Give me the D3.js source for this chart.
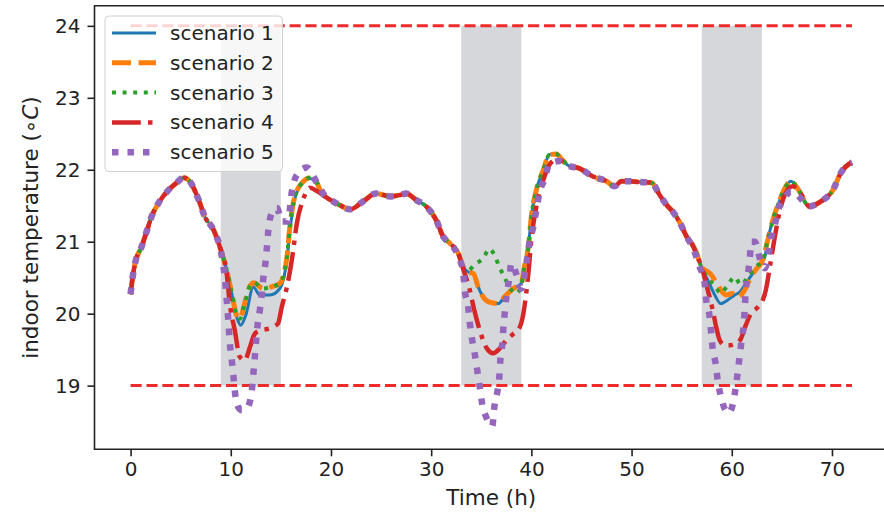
<!DOCTYPE html>
<html>
<head>
<meta charset="utf-8">
<script src="https://cdn.jsdelivr.net/npm/d3@7"></script>
<style>
  body { margin: 0; background: #fff; }
  svg { display: block; font-family: "DejaVu Sans", sans-serif; }
</style>
</head>
<body>
<div id="chart"></div>
<script>
// common curve (where all scenarios overlap), time in h
var baseT = [0, 0.2, 0.45, 1.1, 1.6, 2.1, 2.8, 3.8, 4.6, 5.3, 5.9, 6.8, 7.4, 8.3, 8.9, 9.6,
  18.9, 19.5, 20.2, 21.0, 21.9, 23.2, 24.5, 25.9, 26.9, 27.5, 28.5, 29.5, 30.5, 31.2, 31.85, 32.7, 33.2,
  42.5, 43.0, 43.8, 44.8, 46.1, 47.5, 48.3, 49.0, 49.8, 50.8, 52.0, 52.8, 53.5, 54.1, 54.8, 55.5, 56.1, 56.5,
  65.9, 66.75, 67.7, 68.9, 70.1, 70.9, 71.7, 72];
var baseY = [20.27, 20.5, 20.7, 20.93, 21.14, 21.35, 21.54, 21.72, 21.82, 21.89, 21.84, 21.58, 21.35, 21.16, 20.93, 20.6,
  21.72, 21.62, 21.56, 21.5, 21.45, 21.56, 21.67, 21.63, 21.65, 21.67, 21.58, 21.49, 21.3, 21.07, 20.98, 20.84, 20.65,
  22.22, 22.15, 22.05, 22.02, 21.91, 21.84, 21.77, 21.84, 21.84, 21.83, 21.82, 21.65, 21.51, 21.42, 21.27, 21.07, 20.95, 20.84,
  21.84, 21.70, 21.49, 21.56, 21.72, 21.96, 22.08, 22.1];

// parts of each scenario that leave the common curve (around the grey periods)
var s1Dips = [
  [[9.6,20.6],[10.1,20.28],[10.6,19.95],[11.0,19.84],[11.5,19.98],[12.25,20.37],[12.9,20.26],[13.9,20.26],[14.9,20.35],[15.3,20.5],[15.6,20.75],[15.9,21.15],[16.4,21.6],[17.2,21.82],[17.9,21.88],[18.6,21.8],[18.9,21.72]],
  [[33.2,20.65],[33.7,20.58],[34.2,20.56],[34.7,20.37],[35.2,20.23],[35.8,20.16],[36.7,20.14],[37.3,20.23],[38.2,20.35],[39.0,20.42],[39.3,20.65],[39.7,20.93],[40.0,21.35],[40.5,21.72],[41.2,22.0],[41.8,22.21],[42.5,22.22]],
  [[56.5,20.84],[56.95,20.65],[57.6,20.47],[58.3,20.26],[58.9,20.14],[59.6,20.19],[60.3,20.26],[60.8,20.3],[61.4,20.42],[62.1,20.56],[62.8,20.68],[63.3,20.79],[63.6,21.03],[64.1,21.3],[64.8,21.58],[65.4,21.77],[65.9,21.84]]
];
var s2Dips = [
  [[9.6,20.6],[10.1,20.28],[10.6,19.97],[10.9,19.93],[11.4,20.15],[11.9,20.38],[12.3,20.43],[13.2,20.35],[14.2,20.38],[14.9,20.42],[15.3,20.55],[15.6,20.78],[15.9,21.21],[16.4,21.63],[17.2,21.83],[17.9,21.89],[18.6,21.82],[18.9,21.72]],
  [[33.2,20.65],[33.7,20.58],[34.2,20.56],[34.7,20.37],[35.2,20.23],[35.8,20.16],[36.7,20.14],[37.3,20.23],[38.2,20.35],[39.0,20.42],[39.3,20.65],[39.7,20.93],[40.0,21.35],[40.5,21.72],[41.2,22.0],[41.8,22.21],[42.5,22.22]],
  [[56.5,20.84],[56.95,20.65],[57.4,20.6],[57.9,20.55],[58.5,20.42],[59.4,20.26],[60.1,20.28],[60.6,20.23],[61.3,20.33],[61.9,20.51],[62.5,20.63],[63.1,20.75],[63.6,21.03],[64.1,21.3],[64.8,21.58],[65.4,21.77],[65.9,21.84]]
];
var s3Dips = [
  [[9.6,20.6],[10.1,20.28],[10.6,19.97],[10.9,19.93],[11.4,20.15],[11.9,20.38],[12.3,20.43],[13.2,20.35],[14.2,20.38],[14.9,20.42],[15.3,20.55],[15.6,20.78],[15.9,21.21],[16.4,21.63],[17.2,21.83],[17.9,21.89],[18.6,21.82],[18.9,21.72]],
  [[33.2,20.65],[33.7,20.6],[34.3,20.68],[35.2,20.77],[35.8,20.9],[36.3,20.82],[36.8,20.65],[37.3,20.51],[37.8,20.37],[38.5,20.28],[39.0,20.4],[39.3,20.65],[39.7,20.93],[40.0,21.35],[40.5,21.72],[41.2,22.0],[41.8,22.21],[42.5,22.22]],
  [[56.5,20.84],[56.95,20.65],[57.6,20.5],[58.4,20.37],[58.9,20.28],[59.6,20.4],[60.3,20.51],[60.9,20.4],[61.6,20.51],[62.4,20.65],[63.1,20.75],[63.6,21.03],[64.1,21.3],[64.8,21.58],[65.4,21.77],[65.9,21.84]]
];
var s4Dips = [
  [[9.6,20.55],[9.9,20.14],[10.4,19.77],[10.9,19.4],[11.4,19.35],[11.9,19.53],[12.4,19.72],[13.0,19.77],[13.7,19.79],[14.7,19.86],[15.1,20.1],[15.6,20.37],[16.1,20.75],[16.6,21.26],[17.2,21.58],[17.9,21.75],[18.4,21.72],[18.9,21.68],[19.5,21.62]],
  [[33.2,20.62],[33.85,20.33],[34.3,20.05],[34.85,19.77],[35.5,19.53],[36.2,19.45],[36.8,19.51],[37.5,19.63],[38.2,19.72],[38.8,19.8],[39.2,20.0],[39.4,20.19],[39.7,20.56],[40.0,21.03],[40.5,21.49],[41.2,21.86],[41.8,22.07],[42.5,22.14],[43.2,22.11],[43.8,22.05]],
  [[56.5,20.82],[57.1,20.6],[57.6,20.33],[58.1,20.05],[58.45,19.81],[58.8,19.63],[59.3,19.56],[59.8,19.56],[60.4,19.58],[60.9,19.65],[61.4,19.84],[61.9,20.0],[62.6,20.09],[63.1,20.19],[63.4,20.33],[63.8,20.65],[64.25,21.03],[64.75,21.4],[65.4,21.68],[66.1,21.77],[66.6,21.72],[67.2,21.6],[67.7,21.49]]
];
var s5Dips = [
  [[8.3,21.16],[8.9,20.93],[9.2,20.72],[9.4,20.51],[9.6,20.19],[9.75,19.91],[9.9,19.6],[10.1,19.35],[10.25,19.16],[10.4,18.93],[10.75,18.7],[11.1,18.66],[11.6,18.68],[12.1,18.93],[12.25,19.16],[12.4,19.4],[12.65,19.81],[12.9,20.05],[13.1,20.28],[13.3,20.56],[13.5,20.75],[13.6,20.91],[13.75,21.16],[14.1,21.4],[14.6,21.47],[15.1,21.28],[15.7,21.28],[16.1,21.7],[16.6,21.93],[17.6,22.03],[18.7,21.79],[19.5,21.62]],
  [[32.2,20.93],[32.7,20.8],[33.2,20.56],[33.35,20.33],[33.7,20.09],[33.85,19.88],[34.1,19.63],[34.35,19.44],[34.6,19.21],[34.85,18.98],[35.1,18.74],[35.5,18.56],[36.1,18.44],[36.3,18.7],[36.6,18.91],[36.8,19.12],[36.9,19.35],[37.1,19.58],[37.2,19.79],[37.35,20.02],[37.5,20.23],[37.8,20.49],[38.0,20.7],[38.5,20.55],[39.0,20.35],[39.4,20.6],[39.8,20.98],[40.2,21.21],[40.5,21.44],[40.8,21.68],[41.3,21.86],[41.8,22.08],[42.8,22.12],[43.8,22.05]],
  [[56.1,20.92],[56.8,20.65],[57.3,20.42],[57.45,20.19],[57.8,19.95],[57.95,19.72],[58.1,19.51],[58.4,19.3],[58.6,19.07],[58.9,18.86],[59.4,18.65],[59.7,18.62],[60.1,18.74],[60.4,18.98],[60.6,19.19],[60.8,19.42],[61.0,19.65],[61.2,19.86],[61.3,20.09],[61.4,20.33],[61.6,20.54],[61.8,20.77],[61.95,21.0],[62.3,21.0],[62.8,20.77],[63.3,20.63],[63.6,20.77],[63.9,21.03],[64.25,21.21],[64.75,21.49],[65.25,21.6],[65.9,21.7],[66.75,21.62],[67.7,21.49]]
];

var names = ["scenario 1", "scenario 2", "scenario 3", "scenario 4", "scenario 5"];
var colors = ["#1f77b4", "#ff7f0e", "#2ca02c", "#d62728", "#9467bd"];
var widths = [3, 5, 4, 4.5, 6.5];
var dashes = [null, "19,7.5", "4,6.6", "28.8,7.2,4.5,7.2", "6.5,9"];

var periods = [[9, 15], [33, 39], [57, 63]];   // grey shaded hours
var comfort = [19, 24];                         // red dashed limits
var xTicks = [0, 10, 20, 30, 40, 50, 60, 70];
var yTicks = [19, 20, 21, 22, 23, 24];

var W = 884, H = 512;
var margin = {top: 5.7, left: 94.5, bottom: 449.3};

var x = d3.scaleLinear().domain([-3.6, 75.6]).range([margin.left, margin.left + 79.2 * 10.02]);
var y = d3.scaleLinear().domain([18.115, 24.28]).range([margin.bottom, margin.top]);
var xEnd = x.range()[1];

// build each scenario: common curve with its own dip parts swapped in
function build(dips) {
  var pts = baseT.map(function (t, i) { return [t, baseY[i]]; });
  dips.forEach(function (seg) {
    var t0 = seg[0][0], t1 = seg[seg.length - 1][0];
    pts = pts.filter(function (p) { return p[0] < t0 || p[0] > t1; }).concat(seg);
  });
  return pts.sort(function (a, b) { return a[0] - b[0]; });
}
var series = [s1Dips, s2Dips, s3Dips, s4Dips, s5Dips].map(build);

var svg = d3.select("#chart").append("svg")
  .attr("width", W).attr("height", H);

svg.append("defs").append("clipPath").attr("id", "plot")
  .append("rect").attr("x", margin.left).attr("y", margin.top)
  .attr("width", xEnd - margin.left).attr("height", margin.bottom - margin.top);

var plot = svg.append("g").attr("clip-path", "url(#plot)");

// grey periods
plot.selectAll(".period").data(periods).enter().append("rect")
  .attr("class", "period")
  .attr("x", function (d) { return x(d[0]); })
  .attr("width", function (d) { return x(d[1]) - x(d[0]); })
  .attr("y", y(comfort[1]))
  .attr("height", y(comfort[0]) - y(comfort[1]))
  .attr("fill", "#d5d7da");

// comfort limits
plot.selectAll(".limit").data(comfort).enter().append("line")
  .attr("class", "limit")
  .attr("x1", x(0)).attr("x2", x(72))
  .attr("y1", function (d) { return y(d); })
  .attr("y2", function (d) { return y(d); })
  .attr("stroke", "#ef2a2a").attr("stroke-width", 3)
  .attr("stroke-dasharray", "11.1,4.8");

var line = d3.line()
  .x(function (d) { return x(d[0]); })
  .y(function (d) { return y(d[1]); })
  .curve(d3.curveMonotoneX);

plot.selectAll(".scen").data(series).enter().append("path")
  .attr("class", "scen")
  .attr("d", line)
  .attr("fill", "none")
  .attr("stroke", function (d, i) { return colors[i]; })
  .attr("stroke-width", function (d, i) { return widths[i]; })
  .attr("stroke-dasharray", function (d, i) { return dashes[i]; })
  .attr("stroke-linejoin", "round");

// axes
var xAxis = svg.append("g")
  .attr("transform", "translate(0," + margin.bottom + ")")
  .call(d3.axisBottom(x).tickValues(xTicks).tickSize(7).tickPadding(6).tickFormat(d3.format("d")));
var yAxis = svg.append("g")
  .attr("transform", "translate(" + margin.left + ",0)")
  .call(d3.axisLeft(y).tickValues(yTicks).tickSize(7).tickPadding(7).tickFormat(d3.format("d")));
[xAxis, yAxis].forEach(function (a) {
  a.select(".domain").remove();
  a.selectAll(".tick line").attr("stroke", "#222").attr("stroke-width", 1.6);
  a.selectAll(".tick text").attr("fill", "#222").style("font-size", "20px")
    .style("font-family", "DejaVu Sans");
});

// spines (right one falls outside the picture)
svg.append("path")
  .attr("d", "M" + xEnd + "," + margin.top + "H" + margin.left + "V" + margin.bottom + "H" + xEnd)
  .attr("fill", "none").attr("stroke", "#222").attr("stroke-width", 1.6);

svg.append("text")
  .attr("x", (margin.left + xEnd) / 2).attr("y", 505)
  .attr("text-anchor", "middle")
  .style("font-size", "21.5px").attr("fill", "#222")
  .text("Time (h)");

var ylab = svg.append("text")
  .attr("transform", "translate(38," + (margin.top + margin.bottom) / 2 + ")rotate(-90)")
  .attr("text-anchor", "middle")
  .style("font-size", "21.5px").attr("fill", "#222");
ylab.append("tspan").text("indoor temperature (\u2218");
ylab.append("tspan").style("font-style", "italic").text("C");
ylab.append("tspan").text(")");

// legend
var legend = svg.append("g");
legend.append("rect")
  .attr("x", 105).attr("y", 16).attr("width", 177.5).attr("height", 155.5)
  .attr("rx", 4)
  .attr("fill", "#fff").attr("fill-opacity", 0.8)
  .attr("stroke", "#d0d0d0").attr("stroke-width", 1);

var rows = legend.selectAll(".row").data(names).enter().append("g")
  .attr("class", "row")
  .attr("transform", function (d, i) { return "translate(0," + (33 + i * 29.8) + ")"; });
rows.append("line")
  .attr("x1", 112).attr("x2", 156)
  .attr("stroke", function (d, i) { return colors[i]; })
  .attr("stroke-width", function (d, i) { return widths[i]; })
  .attr("stroke-dasharray", function (d, i) { return dashes[i]; });
rows.append("text")
  .attr("x", 170).attr("dy", "0.35em")
  .style("font-size", "20px").attr("fill", "#222")
  .text(function (d) { return d; });
</script>
</body>
</html>
